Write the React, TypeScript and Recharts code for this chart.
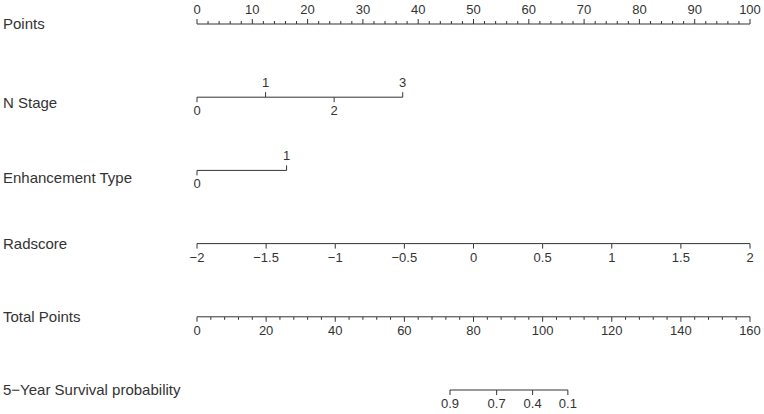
import { ComposedChart, Scatter, XAxis, YAxis } from "recharts"

const ink = "#333333"
const font = "'Liberation Sans', Arial, Helvetica, sans-serif"

// row names, top to bottom
const rowLabels = [
  "Points",
  "N Stage",
  "Enhancement Type",
  "Radscore",
  "Total Points",
  "5\u2212Year Survival probability",
]

// Points scale
const pointsMajor = [0, 10, 20, 30, 40, 50, 60, 70, 80, 90, 100]
const pointsMinorStep = 2

// N Stage levels and the points they are worth
const nStageLevels = ["0", "1", "2", "3"]
const nStagePoints = [0, 12.4, 24.8, 37.2]

// Enhancement type levels and points
const enhancementLevels = ["0", "1"]
const enhancementPoints = [0, 16.2]

// Radscore ticks (range -2..2 maps onto 0..100 points)
const radscoreTicks = [-2, -1.5, -1, -0.5, 0, 0.5, 1, 1.5, 2]
const radscoreMin = -2
const radscoreMax = 2

// Total points scale
const totalPointsMajor = [0, 20, 40, 60, 80, 100, 120, 140, 160]
const totalPointsMinorStep = 4
const totalPointsMax = 160

// survival probability labels and where they sit on the total points scale
const survivalLabels = ["0.9", "0.7", "0.4", "0.1"]
const survivalTotalPoints = [73.2, 86.7, 97.1, 107.3]

// small vertical nudge for the row names (px)
const labelNudge = [0, 6, 8, 0, 0, 0]

type Tick = { x: number; y: number; label: string; up: boolean; minor: boolean }

const fmt = (v: number) => (v < 0 ? "\u2212" + Math.abs(v) : String(v))

const pointsRow: Tick[] = []
for (let v = 0; v <= 100; v += pointsMinorStep) {
  const major = pointsMajor.includes(v)
  pointsRow.push({ x: v, y: 0, label: major ? String(v) : "", up: true, minor: !major })
}

const nStageRow: Tick[] = nStageLevels.map((l, i) => ({
  x: nStagePoints[i],
  y: 1,
  label: l,
  up: i % 2 === 1,
  minor: false,
}))

const enhancementRow: Tick[] = enhancementLevels.map((l, i) => ({
  x: enhancementPoints[i],
  y: 2,
  label: l,
  up: i % 2 === 1,
  minor: false,
}))

const radscoreRow: Tick[] = radscoreTicks.map((r) => ({
  x: ((r - radscoreMin) / (radscoreMax - radscoreMin)) * 100,
  y: 3,
  label: fmt(r),
  up: false,
  minor: false,
}))

const totalRow: Tick[] = []
for (let v = 0; v <= totalPointsMax; v += totalPointsMinorStep) {
  const major = totalPointsMajor.includes(v)
  totalRow.push({ x: (v / totalPointsMax) * 100, y: 4, label: major ? String(v) : "", up: false, minor: !major })
}

const survivalRow: Tick[] = survivalLabels.map((l, i) => ({
  x: (survivalTotalPoints[i] / totalPointsMax) * 100,
  y: 5,
  label: l,
  up: false,
  minor: false,
}))

const rows = [pointsRow, nStageRow, enhancementRow, radscoreRow, totalRow, survivalRow]

const TickShape = (props: any) => {
  const { cx, cy, payload } = props
  const len = payload.minor ? 3 : 5
  return (
    <g>
      <line x1={cx} x2={cx} y1={cy} y2={payload.up ? cy - len : cy + len} stroke={ink} strokeWidth={1} />
      {payload.label !== "" && (
        <text x={cx} y={payload.up ? cy - 10 : cy + 18} textAnchor="middle" fontSize={13} fill={ink}>
          {payload.label}
        </text>
      )}
    </g>
  )
}

const RowName = (props: any) => {
  const { y, payload } = props
  const i = payload.value as number
  return (
    <text x={3} y={y + 5 + labelNudge[i]} textAnchor="start" fontSize={15} fill={ink}>
      {rowLabels[i]}
    </text>
  )
}

export default function App() {
  return (
    <div style={{ position: "absolute", left: 0, top: 0, width: 764, height: 414, background: "#fff", fontFamily: font }}>
      <ComposedChart width={764} height={414} margin={{ top: 24, right: 14, bottom: 24, left: 0 }}>
        <XAxis type="number" dataKey="x" domain={[0, 100]} hide />
        <YAxis
          type="number"
          dataKey="y"
          domain={[0, 5]}
          reversed
          ticks={[0, 1, 2, 3, 4, 5]}
          width={197}
          axisLine={false}
          tickLine={false}
          tick={<RowName />}
        />
        {rows.map((r, i) => (
          <Scatter
            key={i}
            data={r}
            line={{ stroke: ink, strokeWidth: 1 }}
            lineType="joint"
            stroke={ink}
            fill="none"
            shape={<TickShape />}
            isAnimationActive={false}
          />
        ))}
      </ComposedChart>
    </div>
  )
}
